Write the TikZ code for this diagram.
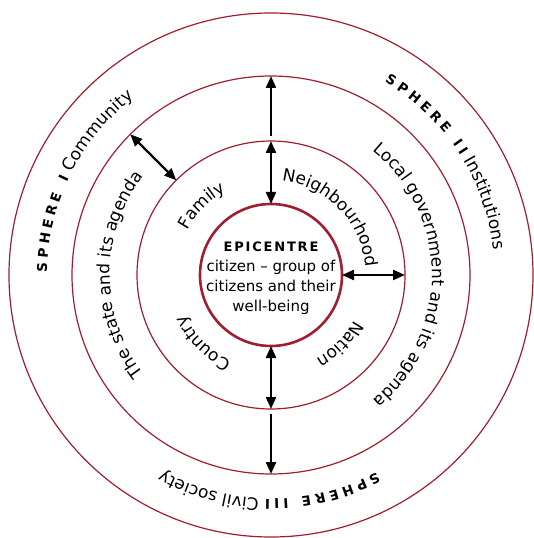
\documentclass[tikz,border=0pt]{standalone}
\usepackage{fontspec}
\setmainfont{DejaVu Sans}
\newfontfamily\spherefont[WordSpace=0.85]{DejaVu Sans}
\usetikzlibrary{arrows.meta,decorations.text}

\definecolor{ringred}{RGB}{160,30,48}
\newcommand{\ringfont}{\fontsize{17}{18}\selectfont}
\newcommand{\sphfont}{\spherefont\bfseries\fontsize{13.5}{13.5}\selectfont}

\begin{document}
\begin{tikzpicture}[x=1pt,y=1pt,
    ring/.style={circle, draw=ringred, line width=1.2pt, inner sep=0pt, outer sep=0pt},
    link/.style={line width=2.2pt, -{Triangle[length=12pt,width=10pt]}},
    twoway/.style={line width=2.2pt, {Triangle[length=12pt,width=10pt]}-{Triangle[length=12pt,width=10pt]}},
    arctext/.style={decorate, decoration={text along path, text align=center, text={#1}}}]
  \useasboundingbox (-271,-263) rectangle (262,275);

  % the four rings
  \node[ring, minimum size=524pt] (spherering) at (0,0) {};
  \node[ring, minimum size=398pt] (statering) at (0,0) {};
  \node[ring, minimum size=268pt] (nearring) at (0,0) {};
  \node[ring, line width=2.6pt, minimum size=142pt] (epi) at (0,0) {};

  \node[align=center, font=\fontsize{15}{20}\selectfont] (epitext) at (0,-3)
    {{\bfseries\addfontfeature{LetterSpace=14}\fontsize{13}{20}\selectfont EPICENTRE}\\
     citizen -- group of\\citizens and their\\well-being};

  % arrows
  \coordinate (upfoot) at ([yshift=5pt]nearring.north);
  \coordinate (downfoot) at ([yshift=-5pt]nearring.south);
  \draw[twoway] (epi.north) -- (nearring.north);
  \draw[link] (upfoot) -- (statering.north);
  \draw[twoway] (epi.south) -- (nearring.south);
  \draw[link] (downfoot) -- (statering.south);
  \draw[twoway] (epi.east) -- (nearring.east);
  \draw[twoway] (nearring.135) -- (statering.135);

  % inner ring
  \path[arctext={|\ringfont|Family}] (195:95) arc[start angle=195, end angle=75, radius=95];
  \path[arctext={|\ringfont|Neighbourhood}] (104:95) arc[start angle=104, end angle=-16, radius=95];
  \path[arctext={|\ringfont|Country}] (285:95) arc[start angle=285, end angle=165, radius=95];
  \path[arctext={|\ringfont|Nation}] (375:95) arc[start angle=375, end angle=255, radius=95];

  % middle ring
  \path[arctext={|\ringfont|The state and its agenda}] (250:161) arc[start angle=250, end angle=110, radius=161];
  \path[arctext={|\ringfont|Local government and its agenda}] (80:161) arc[start angle=80, end angle=-80, radius=161];

  % outer ring
  \path[arctext={|\sphfont|S P H E R E {\hspace{5pt}} I|\ringfont|{\hspace{6pt}}Community}] (199:224) arc[start angle=199, end angle=108, radius=224];
  \path[arctext={|\sphfont|S P H E R E {\hspace{5pt}} I I|\ringfont|{\hspace{6pt}}Institutions}] (79:224) arc[start angle=79, end angle=-13, radius=224];
  \path[arctext={|\sphfont|S P H E R E {\hspace{5pt}} I I I|\ringfont|{\hspace{6pt}}Civil society}] (-44:224) arc[start angle=-44, end angle=-137, radius=224];
\end{tikzpicture}
\end{document}
